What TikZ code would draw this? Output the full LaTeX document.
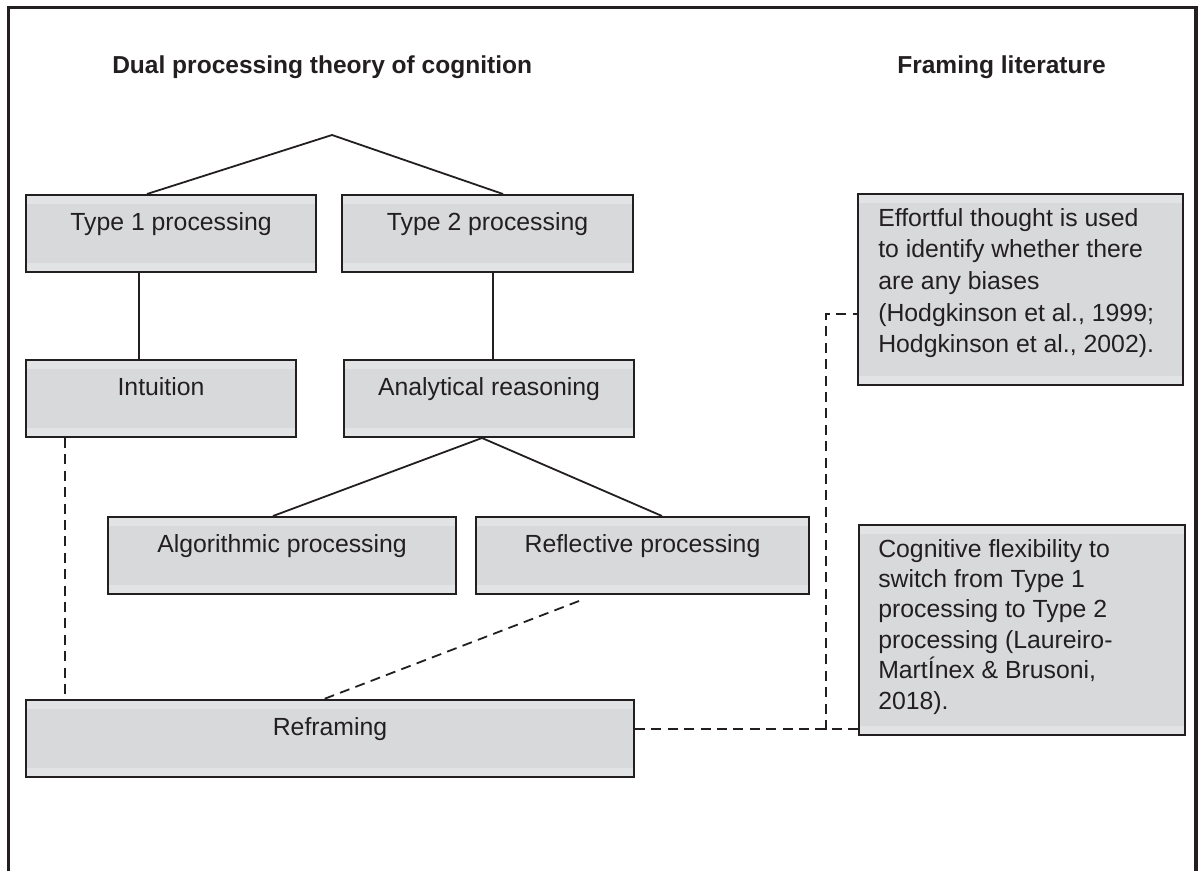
\documentclass[tikz,border=0pt]{standalone}
\usepackage{fontspec}
\setmainfont{Liberation Sans}
\usetikzlibrary{calc}
\definecolor{boxfill}{RGB}{216,217,219}
\definecolor{band}{RGB}{226,227,229}
\definecolor{ink}{RGB}{35,31,32}
\begin{document}
\begin{tikzpicture}[x=0.75pt,y=-0.75pt,
  box/.style={draw=ink, line width=1.5pt, fill=boxfill, inner sep=0pt,
    minimum height=57.75pt, text height=14pt, text depth=19.25pt, text=ink,
    font=\fontsize{18.6pt}{22pt}\selectfont,
    path picture={\fill[band] (path picture bounding box.north west) rectangle ([yshift=-7pt]path picture bounding box.north east);
                  \fill[band] (path picture bounding box.south west) rectangle ([yshift=7pt]path picture bounding box.south east);}},
  para/.style={inner sep=0pt, text=ink, font=\fontsize{18.6pt}{23.8pt}\selectfont},
  title/.style={inner sep=0pt, text=ink, font=\fontsize{18.4pt}{22pt}\selectfont\bfseries},
  link/.style={draw=ink, line width=1.35pt},
  dlink/.style={draw=ink, line width=1.35pt, dash pattern=on 7.5pt off 4.8pt}]
\useasboundingbox (0,0) rectangle (1201,871);
% outer frame (open at the bottom)
\draw[draw=ink, line width=2.8pt] (8.5,871) -- (8.5,7.5) -- (1196,7.5) -- (1196,871);
% titles
\node[title, anchor=base west] (tdual) at (112,73) {Dual processing theory of cognition};
\node[title, anchor=base west] (tframe) at (897,73) {Framing literature};
% boxes
\node[box, minimum width=217.5pt]  (t1)   at (171,233.5)  {Type 1 processing};
\node[box, minimum width=218.25pt] (t2)   at (487.5,233.5) {Type 2 processing};
\node[box, minimum width=202.5pt]  (intu) at (161,398.5)  {Intuition};
\node[box, minimum width=217.5pt]  (anal) at (489,398.5)  {Analytical reasoning};
\node[box, minimum width=261pt]    (algo) at (282,555.5)  {Algorithmic processing};
\node[box, minimum width=249.75pt] (refl) at (642.5,555.5) {Reflective processing};
\node[box, minimum width=456pt]    (refr) at (330,738.5)  {Reframing};
\node[box, minimum width=243.75pt, minimum height=143.25pt, text height=0pt, text depth=0pt] (eff) at (1020.5,289.5) {};
\node[box, minimum width=244.5pt, minimum height=157.5pt, text height=0pt, text depth=0pt] (cog) at (1022,630) {};
\node[para, anchor=base west] (efft) at ($(eff.north west)+(21,33)$)
  {\begin{tabular}[t]{@{}l@{}}Effortful thought is used\\to identify whether there\\are any biases\\(Hodgkinson et al., 1999;\\Hodgkinson et al., 2002).\end{tabular}};
\node[para, font=\fontsize{18.6pt}{22.8pt}\selectfont, anchor=base west] (cogt) at ($(cog.north west)+(20,33)$)
  {\begin{tabular}[t]{@{}l@{}}Cognitive flexibility to\\switch from Type 1\\processing to Type 2\\processing (Laureiro-\\MartÍnex \& Brusoni,\\2018).\end{tabular}};
% tree connectors
\coordinate (ap1) at (332,135);
\draw[link] ($(t1.north west)+(122,0)$) -- (ap1) -- ($(t2.north west)+(162,0)$);
\coordinate (v1) at ($(t1.south west)+(114,0)$);
\draw[link] (v1) -- (v1 |- intu.north);
\coordinate (v2) at ($(t2.south west)+(152,0)$);
\draw[link] (v2) -- (v2 |- anal.north);
\coordinate (ap2) at (482,438);
\draw[link] ($(algo.north west)+(166,0)$) -- (ap2) -- ($(refl.north west)+(187,0)$);
% dashed connectors
\coordinate (d1) at ($(intu.south west)+(40,0)$);
\draw[dlink] (d1) -- (d1 |- refr.north);
\draw[dlink] ($(refl.south west)+(104,6)$) -- ($(refr.north west)+(299,0)$);
\coordinate (h1) at ($(refr.north east)+(0,30)$);
\draw[dlink] (h1) -- (h1 -| cog.west);
\coordinate (j1) at (826,730);
\draw[dlink] (j1) |- ($(eff.south west)+(0,-72)$);
\end{tikzpicture}
\end{document}
